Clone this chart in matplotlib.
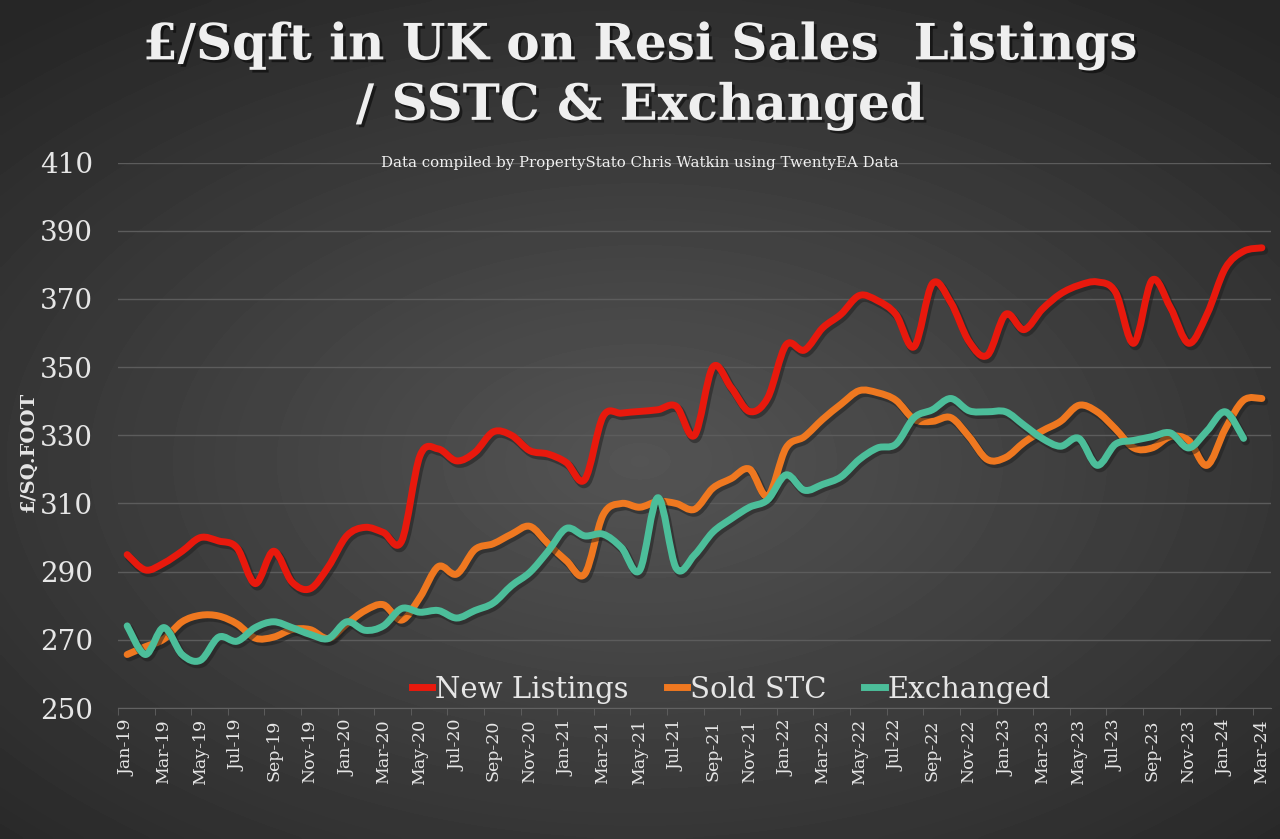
import numpy as np
import matplotlib
matplotlib.use("Agg")
import matplotlib.pyplot as plt
from matplotlib.path import Path
from matplotlib.patches import PathPatch
from matplotlib.lines import Line2D
import matplotlib.patheffects as pe

# months Jan-19 .. Mar-24
months = ["Jan", "Feb", "Mar", "Apr", "May", "Jun", "Jul", "Aug", "Sep", "Oct", "Nov", "Dec"]
labels = [f"{m}-{y}" for y in range(19, 25) for m in months][:63]

new_listings = [295, 290.5, 292.5, 296, 300, 299, 297, 286.5, 296, 287, 285, 291.5,
                300.5, 303, 301.5, 299, 324, 326, 322.5, 325, 331, 330, 325.5, 324.5,
                322, 317, 335.5, 336.5, 337, 337.5, 338.5, 330, 350, 344, 337, 341,
                356.5, 355, 361.5, 365.5, 371, 369.5, 365.5, 356, 374.5, 369, 357.5, 353.5,
                365.5, 361, 367, 371.5, 374, 375, 372, 357, 375.5, 367.5, 357, 365.5,
                379, 384, 385]
sold_stc = [265.7, 268, 270.2, 275.3, 277.2, 277, 274.7, 270.5, 270.8, 273, 273, 270.4,
            274.7, 278.6, 280.3, 275.8, 282.5, 291.5, 289.3, 296.5, 298.2, 301, 303.3, 298.2,
            293.2, 289.3, 306.6, 310, 308.9, 310.6, 310, 308.3, 314.5, 317.3, 320.1, 312.2,
            326.3, 329.6, 334.7, 339.1, 343.1, 342.5, 340.3, 334.7, 334.1, 335.2, 329.6, 322.9,
            323.5, 327.9, 331.3, 334.1, 338.8, 336.9, 331.9, 326.3, 326.3, 329.6, 328.5, 321.2,
            331.9, 340.3, 340.8]
exchanged = [274.1, 265.7, 273.6, 265.7, 264, 270.8, 269.6, 273.6, 275.3, 273.6, 271.6, 270.4,
             275.3, 272.8, 274.1, 279.2, 278.1, 278.6, 276.4, 278.6, 280.8, 285.9, 289.8, 296,
             302.7, 300.5, 301, 297.1, 290.4, 311.7, 291, 294.9, 301.6, 305.5, 308.9, 311.1,
             318.4, 313.9, 315.6, 317.8, 322.9, 326.3, 327.4, 335.2, 337.5, 340.8, 337.2, 336.9,
             336.9, 333, 329.1, 326.8, 329.1, 321.2, 327.4, 328.5, 329.6, 330.7, 326.3, 331.3,
             336.9, 329.1]

series = [("New Listings", new_listings, "#e8190d"),
          ("Sold STC", sold_stc, "#ef7820"),
          ("Exchanged", exchanged, "#4cbe9a")]

TXT = "#e6e6e6"
SERIF = ["DejaVu Serif", "Liberation Serif"]


def smooth_path(y):
    # cubic bezier through each point (same smoothing idea as Excel's smoothed line)
    pts = np.column_stack([np.arange(len(y)), np.asarray(y, float)])
    n = len(pts)
    verts = [pts[0]]
    codes = [Path.MOVETO]
    for i in range(n - 1):
        p0 = pts[max(i - 1, 0)]
        p1, p2 = pts[i], pts[i + 1]
        p3 = pts[min(i + 2, n - 1)]
        verts += [p1 + (p2 - p0) / 6, p2 - (p3 - p1) / 6, p2]
        codes += [Path.CURVE4] * 3
    return Path(verts, codes)


fig = plt.figure(figsize=(12.8, 8.39), dpi=100)

# radial gradient background
bg = fig.add_axes([0, 0, 1, 1], zorder=-10)
gx, gy = np.meshgrid(np.linspace(-1, 1, 400), np.linspace(-1, 1, 260))
r = np.sqrt((gx * 1.0) ** 2 + ((gy - 0.1) * 1.1) ** 2)
bg.imshow(0.33 - 0.12 * np.clip(r, 0, 1.5), cmap="gray", vmin=0, vmax=1,
          aspect="auto", extent=[0, 1, 0, 1], interpolation="bicubic")
bg.axis("off")

ax = fig.add_axes([0.0922, 0.1561, 0.9008, 0.6501])
ax.set_facecolor("none")
ax.set_xlim(-0.5, 62.5)
ax.set_ylim(250, 410)
ax.set_yticks(np.arange(250, 411, 20))
ax.grid(axis="y", color="#5c5c5c", linewidth=1)
ax.set_axisbelow(True)
for s in ["top", "right", "left"]:
    ax.spines[s].set_visible(False)
ax.spines["bottom"].set_color("#626262")

ax.set_xticks(range(0, 63, 2))
ax.set_xticklabels(labels[::2], rotation=90, family=SERIF, fontsize=12.5, color=TXT)
ax.set_xticks(np.arange(-0.5, 63, 2), minor=True)
ax.tick_params(axis="x", which="major", length=0, pad=8)
ax.tick_params(axis="x", which="minor", length=5, color="#626262")
ax.tick_params(axis="y", length=0, pad=18, labelsize=20, labelcolor=TXT)
for t in ax.get_yticklabels():
    t.set_family(SERIF)

for name, vals, col in series:
    patch = PathPatch(smooth_path(vals), fill=False, edgecolor=col, linewidth=5.0,
                      capstyle="round", joinstyle="round", zorder=3)
    patch.set_path_effects([pe.Stroke(offset=(1.5, -2), linewidth=6, foreground="#1e1e1e", alpha=0.5),
                            pe.Normal()])
    ax.add_patch(patch)

handles = [Line2D([], [], color=c, linewidth=5.0) for _, _, c in series]
leg = ax.legend(handles, [s[0] for s in series], loc="lower center", bbox_to_anchor=(0.532, -0.04),
                ncol=3, frameon=False, handlelength=0.7, handletextpad=0.1, columnspacing=1.3,
                prop={"family": SERIF, "size": 21})
for t in leg.get_texts():
    t.set_color(TXT)

ax.set_ylabel("£/SQ.FOOT", family=SERIF, fontsize=14, fontweight="bold", color=TXT)
ax.yaxis.set_label_coords(-0.07, 0.47)

shadow = [pe.withSimplePatchShadow(offset=(2, -2), shadow_rgbFace="black", alpha=0.5)]
fig.text(0.5, 0.945, "£/Sqft in UK on Resi Sales  Listings", ha="center", va="center",
         family=SERIF, fontsize=36, fontweight="bold", color="#efefef", path_effects=shadow)
fig.text(0.5, 0.873, "/ SSTC & Exchanged", ha="center", va="center",
         family=SERIF, fontsize=36, fontweight="bold", color="#efefef", path_effects=shadow)
fig.text(0.5, 0.806, "Data compiled by PropertyStato Chris Watkin using TwentyEA Data",
         ha="center", va="center", family=SERIF, fontsize=10.8, color="#f0f0f0")

fig.savefig("out.png", dpi=100)
